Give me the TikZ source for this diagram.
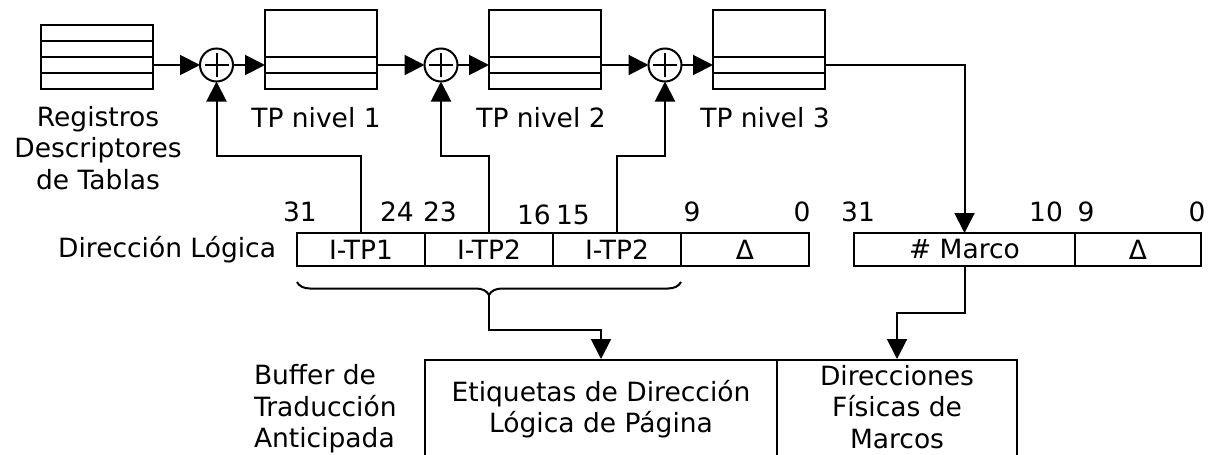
\documentclass[tikz,border=0pt]{standalone}
\usepackage{fontspec}
\setmainfont{DejaVu Sans}
\usetikzlibrary{arrows.meta,decorations.pathreplacing}

\begin{document}
\begin{tikzpicture}[x=1pt, y=-1pt, >={Triangle[length=20pt, width=20pt]}, line width=2pt,
  font=\fontsize{26.5}{31.5}\selectfont,
  tabla/.style={draw, minimum width=112pt, inner sep=0pt, outer sep=0pt},
  xorop/.style={draw, circle, minimum size=33pt, inner sep=0pt, outer sep=0pt,
    path picture={\draw ([xshift=4.5pt]path picture bounding box.west) -- ([xshift=-4.5pt]path picture bounding box.east)
      ([yshift=-4.5pt]path picture bounding box.north) -- ([yshift=4.5pt]path picture bounding box.south);}},
  campo/.style={draw, minimum height=33pt, inner sep=0pt, outer sep=0pt},
  texto/.style={inner sep=0pt, align=center},
  bit/.style={inner sep=0pt}]
\useasboundingbox (0,0) rectangle (1211,455);
\clip (0,0) rectangle (1211,455);

% tablas de paginas
\node[tabla, minimum height=64pt] (reg) at (97,57) {};
\node[tabla, minimum height=79pt] (tp1) at (321,49.5) {};
\node[tabla, minimum height=79pt] (tp2) at (545,49.5) {};
\node[tabla, minimum height=79pt] (tp3) at (769,49.5) {};
\foreach \y in {41,57,73} \draw (reg.west |- 0,\y) -- (reg.east |- 0,\y);
\foreach \t in {tp1,tp2,tp3} \foreach \y in {57,73} \draw (\t.west |- 0,\y) -- (\t.east |- 0,\y);

% sumadores
\node[xorop] (s1) at (216.5,65) {};
\node[xorop] (s2) at (441,65) {};
\node[xorop] (s3) at (665,65) {};

\node[texto] (lreg) at (98,148) {Registros\\Descriptores\\de Tablas};
\node[texto] (ltp1) at (316,118) {TP nivel 1};
\node[texto] (ltp2) at (541,118) {TP nivel 2};
\node[texto] (ltp3) at (765,118) {TP nivel 3};

% direccion logica y fisica
\node[campo, minimum width=128pt] (f1) at (361,249.5) {I-TP1};
\node[campo, minimum width=128pt] (f2) at (489,249.5) {I-TP2};
\node[campo, minimum width=128pt] (f3) at (617,249.5) {I-TP2};
\node[campo, minimum width=128pt] (d1) at (745,249.5) {Δ};
\node[campo, minimum width=221pt] (marco) at (964.5,249.5) {\# Marco};
\node[campo, minimum width=126pt] (d2) at (1138,249.5) {Δ};
\node[texto, anchor=east] (ldl) at (277,249.5) {Dirección Lógica};

\node[bit] (b31) at (300,212) {31};
\node[bit] (b24) at (397,212) {24};
\node[bit] (b23) at (440,212) {23};
\node[bit] (b16) at (534,215) {16};
\node[bit] (b15) at (573,215) {15};
\node[bit] (b9) at (692,212) {9};
\node[bit] (b0) at (802,212) {0};
\node[bit] (c31) at (858,212) {31};
\node[bit] (c10) at (1046,212) {10};
\node[bit] (c9) at (1086,212) {9};
\node[bit] (c0) at (1197,212) {0};

% TLB
\node[draw, texto, minimum width=352pt, minimum height=102pt] (etq) at (601,411) {};
\node[texto] (tetq) at (601,409) {Etiquetas de Dirección\\Lógica de Página};
\node[draw, texto, minimum width=240pt, minimum height=102pt] (dir) at (897,411) {};
\node[texto] (tdir) at (897,407) {Direcciones\\Físicas de\\Marcos};
\node[texto, align=left, anchor=west] (ltlb) at (253,409) {Buffer de\\Traducción\\Anticipada};

% conexiones
\draw[->] (reg.east |- s1) -- (s1);
\draw[->] (s1) -- (tp1.west |- s1);
\draw[->] (tp1.east |- s2) -- (s2);
\draw[->] (s2) -- (tp2.west |- s2);
\draw[->] (tp2.east |- s3) -- (s3);
\draw[->] (s3) -- (tp3.west |- s3);
\draw[->] (tp3.east |- s3) -| (marco);
\draw[->] (f1.north) -- ++(0,-77) -| (s1);
\draw[->] (f2.north) -- ++(0,-77) -| (s2);
\draw[->] (f3.north) -- ++(0,-77) -| (s3);

\draw[decorate, decoration={brace, mirror, amplitude=13pt}] (f1.south west |- 0,282) -- (f3.south east |- 0,282);
\coordinate (llave) at (489,295);
\draw[->] (llave) -- ++(0,35) -| (etq);
\draw[->] (marco.south) -- ++(0,47) -| (dir);
\end{tikzpicture}
\end{document}
